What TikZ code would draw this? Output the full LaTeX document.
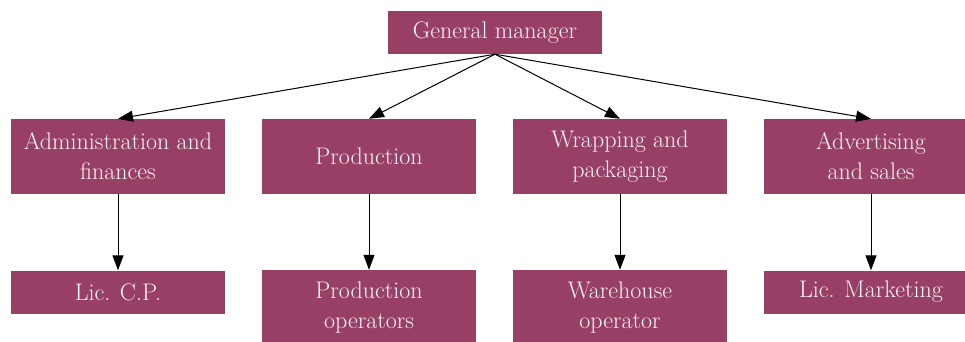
\documentclass[tikz,border=0pt]{standalone}
\usetikzlibrary{arrows.meta}
\definecolor{boxfill}{HTML}{983F65}
\definecolor{boxtext}{HTML}{FAF3F6}
\begin{document}
\begin{tikzpicture}[x=1pt,y=1pt,
  orgbox/.style={fill=boxfill, text=boxtext, minimum width=214pt, inner sep=0pt,
    align=center, font=\fontsize{24}{30}\selectfont},
  one/.style={orgbox, minimum height=43pt},
  two/.style={orgbox, minimum height=75pt},
  link/.style={-{Triangle[length=15pt,width=11pt]}, line width=1pt}]
\useasboundingbox (0,0) rectangle (965,-342);
\node[one] (gm) at (495,-32.5) {General manager};
\node[two] (adm) at (118,-156.5) {Administration and\\finances};
\node[two] (prod) at (369,-156.5) {Production};
\node[two] (wrap) at (620,-156.5) {Wrapping and\\packaging};
\node[two] (adv) at (871,-156.5) {Advertising\\and sales};
\node[one] (lcp) at (118,-292) {Lic. C.P.};
\node[two] (pop) at (369,-307.5) {Production\\operators};
\node[two] (who) at (620,-307.5) {Warehouse\\operator};
\node[one] (lmk) at (871,-292) {Lic. Marketing};
\foreach \t in {adm,prod,wrap,adv} \draw[link] (gm.south) -- (\t.north);
\draw[link] (adm) -- (lcp);
\draw[link] (prod) -- (pop);
\draw[link] (wrap) -- (who);
\draw[link] (adv) -- (lmk);
\end{tikzpicture}
\end{document}
